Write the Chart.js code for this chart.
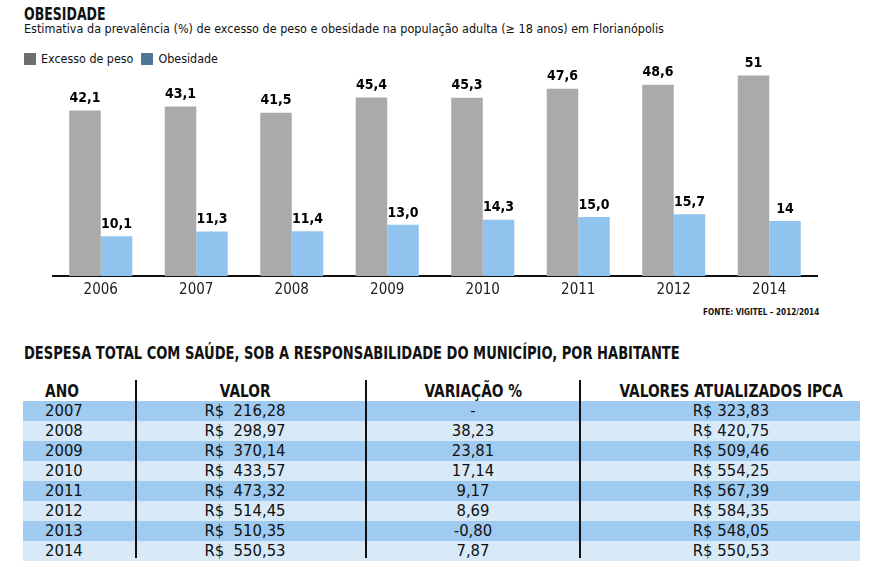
<!DOCTYPE html>
<html lang="pt-BR">
<head>
<meta charset="utf-8">
<script src="https://cdn.jsdelivr.net/npm/chart.js@4.4.1/dist/chart.umd.min.js"></script>
<style>
  body { margin: 0; width: 879px; height: 567px; background: #fff; position: relative; overflow: hidden;
         font-family: "DejaVu Sans Condensed", "Liberation Sans Narrow", "Roboto", sans-serif; color: #111; }
  .abs { position: absolute; white-space: nowrap; transform-origin: left top; }
  #titulo { left: 24px; top: 4px; font-size: 17px; font-weight: bold; transform: scaleX(0.82); }
  #subtitulo { left: 24px; top: 21px; font-size: 12.5px; }
  #legenda { left: 24px; top: 51px; font-size: 12.4px; display: flex; align-items: center; }
  #legenda span.box { display: inline-block; width: 12px; height: 12px; margin-right: 5px; }
  #legenda span.item { display: flex; align-items: center; margin-right: 8px; }
  #grafico { position: absolute; left: 0; top: 40px; width: 879px; height: 264px; }
  #fonte { left: 703px; top: 307px; font-size: 9px; font-weight: bold; transform: scaleX(0.9); }
  #titulo2 { left: 24px; top: 343px; font-size: 17px; font-weight: bold; transform: scaleX(0.855); }
  #tabela { position: absolute; left: 23px; top: 380px; width: 837px; border-collapse: collapse; table-layout: fixed; }
  #tabela th { font-size: 17px; font-weight: bold; height: 21px; padding: 0; background: #fff; }
  #tabela th span { display: inline-block; transform: scaleX(0.9); }
  #tabela td { font-size: 16.5px; height: 20px; padding: 0; white-space: pre; line-height: 20px; }
  #tabela tr:nth-child(odd) td { background: #a0cbf0; }
  #tabela tr:nth-child(even) td { background: #d8e9f8; }
  .c1 { text-align: left; padding-left: 22px !important; }
  .c1 span { transform-origin: left center; }
  .c2 { text-align: center; padding-right: 12px !important; }
  .c3 { text-align: center; }
  .c4 { text-align: center; padding-left: 22px !important; }
  .divisor { position: absolute; top: 380px; width: 2px; height: 178px; background: #111; }
</style>
</head>
<body>
<div id="titulo" class="abs">OBESIDADE</div>
<div id="subtitulo" class="abs">Estimativa da prevalência (%) de excesso de peso e obesidade na população adulta (≥ 18 anos) em Florianópolis</div>
<div id="legenda" class="abs"></div>
<canvas id="grafico" width="879" height="264"></canvas>
<div id="fonte" class="abs">FONTE: VIGITEL – 2012/2014</div>
<div id="titulo2" class="abs">DESPESA TOTAL COM SAÚDE, SOB A RESPONSABILIDADE DO MUNICÍPIO, POR HABITANTE</div>
<table id="tabela">
  <colgroup><col style="width:113px"><col style="width:230px"><col style="width:214px"><col style="width:280px"></colgroup>
  <thead><tr>
    <th class="c1"><span>ANO</span></th>
    <th class="c2"><span>VALOR</span></th>
    <th class="c3"><span>VARIAÇÃO %</span></th>
    <th class="c4"><span>VALORES ATUALIZADOS IPCA</span></th>
  </tr></thead>
  <tbody id="corpo"></tbody>
</table>
<div class="divisor" style="left:135px"></div>
<div class="divisor" style="left:365px"></div>
<div class="divisor" style="left:579px"></div>

<script>
// Dados do gráfico (valores como aparecem nos rótulos)
const anos = ['2006', '2007', '2008', '2009', '2010', '2011', '2012', '2014'];
const excessoPeso = ['42,1', '43,1', '41,5', '45,4', '45,3', '47,6', '48,6', '51'];
const obesidade = ['10,1', '11,3', '11,4', '13,0', '14,3', '15,0', '15,7', '14'];

// Dados da tabela
const anosTabela = ['2007', '2008', '2009', '2010', '2011', '2012', '2013', '2014'];
const valores = ['216,28', '298,97', '370,14', '433,57', '473,32', '514,45', '510,35', '550,53'];
const variacao = ['-', '38,23', '23,81', '17,14', '9,17', '8,69', '-0,80', '7,87'];
const valoresIpca = ['323,83', '420,75', '509,46', '554,25', '567,39', '584,35', '548,05', '550,53'];

const corCinza = '#aaaaaa';
const corAzul = '#90c4ee';
const fonteTexto = '"DejaVu Sans Condensed", "Liberation Sans Narrow", "Roboto", sans-serif';

function paraNumero(s) {
    return parseFloat(s.replace(',', '.'));
}

// Legenda em HTML (as cores da legenda são mais escuras que as barras)
const legenda = document.getElementById('legenda');
[['Excesso de peso', '#6e6e6e'], ['Obesidade', '#4f7599']].forEach(function(item) {
    const el = document.createElement('span');
    el.className = 'item';
    el.innerHTML = '<span class="box" style="background:' + item[1] + '"></span>' + item[0];
    legenda.appendChild(el);
});

// Tabela
const corpo = document.getElementById('corpo');
anosTabela.forEach(function(ano, i) {
    const tr = document.createElement('tr');
    tr.innerHTML = '<td class="c1">' + ano + '</td>' +
        '<td class="c2">R$  ' + valores[i] + '</td>' +
        '<td class="c3">' + variacao[i] + '</td>' +
        '<td class="c4">R$ ' + valoresIpca[i] + '</td>';
    corpo.appendChild(tr);
});

// Plugin para escrever os valores em cima das barras
const rotulosBarras = {
    id: 'rotulosBarras',
    afterDatasetsDraw(chart) {
        const ctx = chart.ctx;
        const textos = [excessoPeso, obesidade];
        ctx.save();
        ctx.font = 'bold 14px ' + fonteTexto;
        ctx.fillStyle = '#000';
        ctx.textAlign = 'center';
        ctx.textBaseline = 'bottom';
        chart.data.datasets.forEach(function(ds, i) {
            chart.getDatasetMeta(i).data.forEach(function(bar, j) {
                ctx.fillText(textos[i][j], bar.x, bar.y - 5);
            });
        });
        ctx.restore();
    }
};

new Chart(document.getElementById('grafico'), {
    type: 'bar',
    data: {
        labels: anos,
        datasets: [
            { label: 'Excesso de peso', data: excessoPeso.map(paraNumero), backgroundColor: corCinza },
            { label: 'Obesidade', data: obesidade.map(paraNumero), backgroundColor: corAzul }
        ]
    },
    options: {
        responsive: false,
        animation: false,
        layout: { padding: { left: 53, right: 62, top: 0, bottom: 0 } },
        datasets: { bar: { categoryPercentage: 0.66, barPercentage: 1 } },
        scales: {
            x: {
                grid: { display: false, drawTicks: false },
                border: { display: true, color: '#111', width: 2 },
                ticks: { color: '#222', padding: 5, font: { family: fonteTexto, size: 15 } }
            },
            y: { display: false, min: 0, max: 60 }
        },
        plugins: { legend: { display: false }, tooltip: { enabled: false } }
    },
    plugins: [rotulosBarras]
});
</script>
</body>
</html>
